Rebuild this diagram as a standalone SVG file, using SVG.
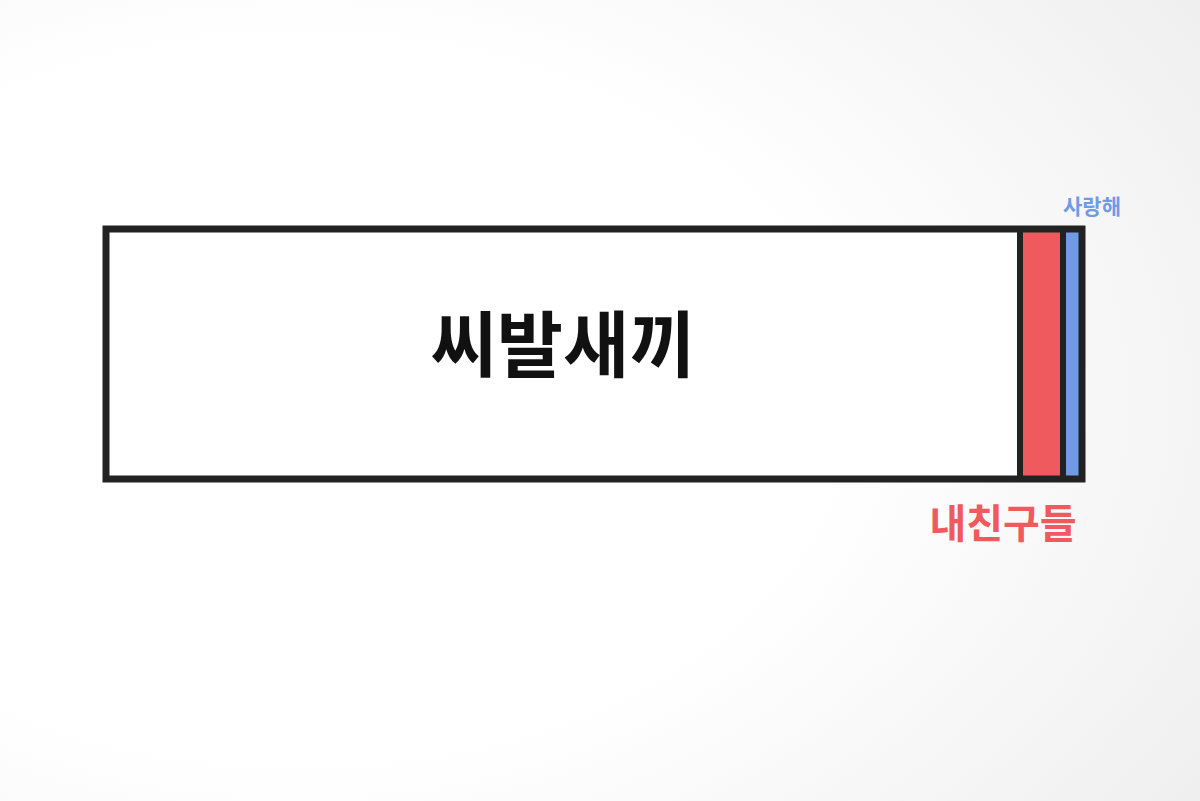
<svg xmlns="http://www.w3.org/2000/svg" width="1200" height="801" viewBox="0 0 1200 801">
<defs>
<radialGradient id="bg" cx="0.25" cy="0.5" r="0.9">
<stop offset="0.5" stop-color="#ffffff"/>
<stop offset="1" stop-color="#efefef"/>
</radialGradient>
<style>
.t{font-family:"Noto Sans CJK KR","Noto Sans",sans-serif;font-weight:bold;text-anchor:middle}
</style>
</defs>
<rect width="1200" height="801" fill="url(#bg)"/>
<g id="bar">
<rect x="106" y="229" width="976" height="250" fill="#ffffff"/>
<rect x="1020" y="229" width="43" height="250" fill="#ee5a5d"/>
<rect x="1063" y="229" width="19" height="250" fill="#6f9be6"/>
<rect x="106" y="229" width="976" height="250" fill="none" stroke="#222" stroke-width="7"/>
<line x1="1020" y1="229" x2="1020" y2="479" stroke="#222" stroke-width="6"/>
<line x1="1063" y1="229" x2="1063" y2="479" stroke="#222" stroke-width="6"/>
</g>
<g id="labels">
<text class="t" x="563" y="371" font-size="72" fill="#111">씨발새끼</text>
<text class="t" x="1003" y="538" font-size="40" fill="#ee5a5d">내친구들</text>
<text class="t" x="1092" y="214" font-size="21" fill="#6f9be6">사랑해</text>
</g>
</svg>
